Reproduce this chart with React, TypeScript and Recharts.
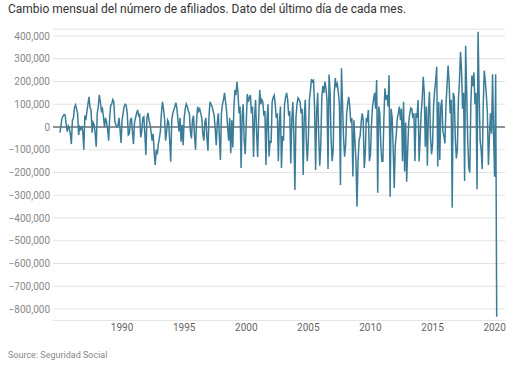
import React from 'react';
import { LineChart, Line, XAxis, YAxis, CartesianGrid, ReferenceLine } from 'recharts';

const TITLE = 'Cambio mensual del número de afiliados. Dato del último día de cada mes.';
const SOURCE = 'Source: Seguridad Social';

const START_YEAR = 1985;

// Monthly change in affiliates (last day of each month), Jan 1985 – Mar 2020
const monthlyChange: number[] = [
  // 1985
  -25000, 10000, 40000, 48000, 55000, 52000, 10000, -20000, 5000, -5000, -30000, -75000,
  // 1986
  30000, 40000, 85000, 97000, 80000, 60000, -35000, 0, -10000, 5000, -20000, -100000,
  // 1987
  50000, 30000, 70000, 100000, 133000, 85000, 75000, -25000, 20000, 10000, -30000, -87000,
  // 1988
  60000, 90000, 141000, 110000, 70000, 80000, 45000, 0, 40000, 20000, -10000, -60000,
  // 1989
  40000, 95000, 100000, 120000, 110000, 25000, 10000, 0, 5000, 40000, -10000, -70000,
  // 1990
  30000, 60000, 90000, 100000, 95000, 60000, -35000, -30000, 30000, 40000, -20000, -75000,
  // 1991
  20000, 40000, 60000, 75000, 50000, 55000, -45000, -20000, 40000, 45000, -30000, -123000,
  // 1992
  40000, 62000, 30000, 10000, -20000, -60000, -30000, -110000, -167000, -100000, -120000, -75000,
  // 1993
  -50000, -20000, 60000, 111000, 80000, 40000, -60000, -20000, 30000, 20000, -60000, -152000,
  // 1994
  30000, 60000, 75000, 90000, 107000, 80000, 30000, -20000, 40000, -65000, 10000, -80000,
  // 1995
  40000, 80000, 101000, 90000, 70000, 60000, -20000, -50000, 30000, 50000, -40000, -100000,
  // 1996
  30000, 89000, 70000, 80000, 60000, 40000, -30000, -60000, 20000, 40000, -50000, -104000,
  // 1997
  50000, 111000, 100000, 90000, 70000, 50000, -10000, -80000, 20000, 60000, -40000, -145000,
  // 1998
  60000, 100000, 120000, 150000, 110000, 70000, 0, -60000, 40000, -115000, 30000, -90000,
  // 1999
  80000, 163000, 140000, 199000, 150000, 60000, 90000, -180000, 50000, 100000, -60000, -120000,
  // 2000
  20000, 145000, 110000, 130000, 140000, 60000, 90000, -132000, 40000, 120000, -30000, -132000,
  // 2001
  40000, 163000, 100000, 120000, 110000, 50000, 70000, -167000, 30000, 100000, -130000, -60000,
  // 2002
  -70000, 110000, 130000, 140000, 100000, 40000, 60000, -150000, 20000, 90000, -180000, -40000,
  // 2003
  -60000, 100000, 130000, 150000, 120000, 50000, 70000, -160000, 30000, 110000, -40000, -277000,
  // 2004
  40000, 100000, 128000, 120000, 110000, 60000, 80000, -211000, 40000, 120000, -60000, -150000,
  // 2005
  -50000, 120000, 160000, 211000, 200000, 205000, 90000, -189000, 60000, 150000, -40000, -170000,
  // 2006
  -80000, 130000, 180000, 150000, 200000, 170000, 120000, -185000, 231000, 150000, -60000, -150000,
  // 2007
  -100000, 150000, 215000, 180000, 190000, 150000, 100000, -255000, 258000, 100000, -50000, -130000,
  // 2008
  -80000, 60000, 100000, 133000, 90000, 20000, 40000, -218000, 30000, -60000, -150000, -350000,
  // 2009
  -150000, -60000, -40000, 20000, 60000, 30000, -180000, -120000, 40000, 30000, 75000, -150000,
  // 2010
  -120000, 10000, 90000, 120000, 150000, 80000, 207000, -289000, 90000, 60000, -80000, -150000,
  // 2011
  -150000, 40000, 170000, 120000, 140000, 90000, 228000, -306000, 80000, 40000, -100000, -268000,
  // 2012
  -80000, -30000, 40000, 60000, 90000, 30000, 80000, -150000, 111000, -196000, 20000, -240000,
  // 2013
  -100000, 20000, 60000, 84000, 80000, 40000, 60000, -150000, 60000, 40000, 119000, -152000,
  // 2014
  -50000, 60000, 120000, 221000, 150000, -87000, 90000, -170000, 60000, 155000, -40000, -120000,
  // 2015
  -80000, 90000, 160000, 200000, 265000, -174000, 110000, -145000, 90000, 120000, -20000, -40000,
  // 2016
  -72000, 100000, 180000, 270000, 200000, 60000, 120000, -355000, 150000, 130000, -50000, -138000,
  // 2017
  -100000, 120000, 200000, 331000, 250000, 80000, 150000, -237000, 357000, 160000, -60000, -180000,
  // 2018
  -200000, 100000, 226000, 180000, 240000, 100000, 150000, -274000, 419000, 150000, -60000, -101000,
  // 2019
  -185000, 100000, 248000, 200000, 141000, 60000, -167000, -40000, 60000, -30000, 232000, -40000,
  // 2020
  -218000, 232000, -833979,
];

const yTicks = [400000, 300000, 200000, 100000, 0, -100000, -200000, -300000, -400000, -500000, -600000, -700000, -800000];
const xTicks = [1990, 1995, 2000, 2005, 2010, 2015, 2020];

const data = monthlyChange.map((value, i) => ({
  t: START_YEAR + Math.floor(i / 12) + (i % 12) / 12,
  value,
}));

const fmtY = (v: number) =>
  v < 0 ? '\u2212' + Math.abs(v).toLocaleString('en-US') : v.toLocaleString('en-US');

export default function App() {
  return (
    <div
      style={{
        position: 'absolute',
        left: 0,
        top: 0,
        width: 518,
        height: 367,
        background: '#fff',
        fontFamily: 'Roboto, sans-serif',
        overflow: 'hidden',
      }}
    >
      <LineChart
        width={518}
        height={367}
        data={data}
        margin={{ top: 29.175, right: 13, bottom: 16.6, left: 0 }}
      >
        <CartesianGrid vertical={false} stroke="#e3e3e3" strokeWidth={1} />
        <XAxis
          dataKey="t"
          type="number"
          domain={[1984.436, 2020.835]}
          ticks={xTicks}
          interval={0}
          axisLine={false}
          tickLine={false}
          tickSize={0}
          tickMargin={3}
          height={30}
          tick={{ fill: '#666', fontSize: 10, fontFamily: 'Roboto' }}
        />
        <YAxis
          type="number"
          domain={[-850000, 430000]}
          ticks={yTicks}
          interval={0}
          width={53}
          axisLine={false}
          tickLine={false}
          tickSize={0}
          tickMargin={3}
          tickFormatter={fmtY}
          tick={{ fill: '#888', fontSize: 10, fontFamily: 'Roboto' }}
        />
        <ReferenceLine y={0} stroke="#333" strokeWidth={1.2} />
        <Line
          type="linear"
          dataKey="value"
          stroke="#3b7d98"
          strokeWidth={1.5}
          dot={false}
          activeDot={false}
          isAnimationActive={false}
        />
      </LineChart>
      <div
        style={{
          position: 'absolute',
          left: 8,
          top: 2,
          fontSize: 12,
          lineHeight: '14px',
          color: '#333',
          whiteSpace: 'nowrap',
        }}
      >
        {TITLE}
      </div>
      <div
        style={{
          position: 'absolute',
          left: 8,
          top: 349.5,
          fontSize: 9,
          lineHeight: '11px',
          color: '#888',
          whiteSpace: 'nowrap',
        }}
      >
        {SOURCE}
      </div>
    </div>
  );
}
